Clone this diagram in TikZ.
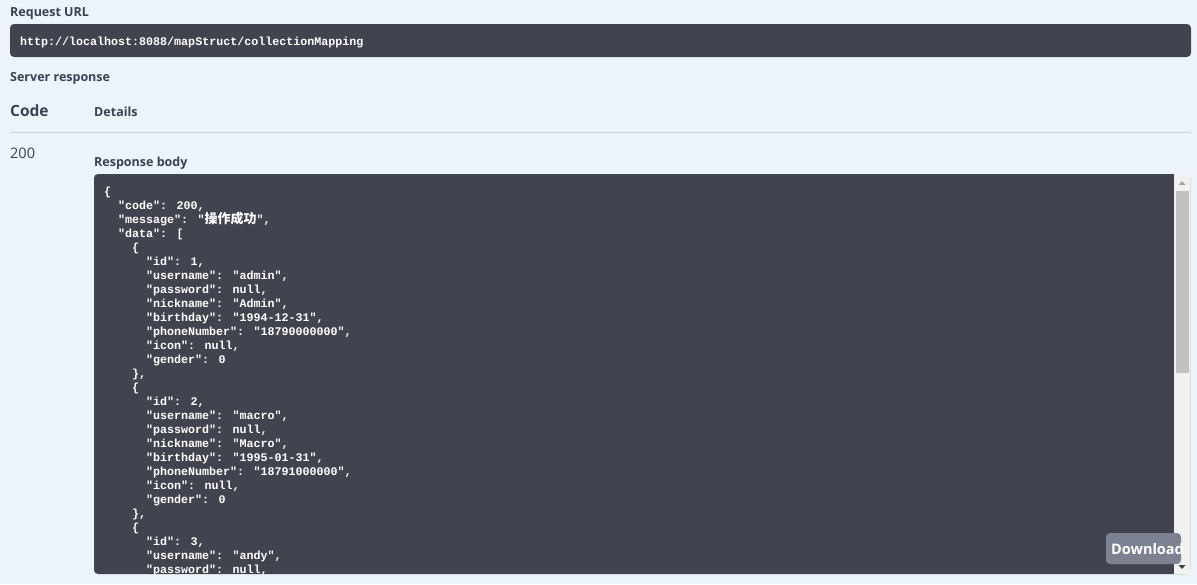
\documentclass[tikz,border=0pt]{standalone}
\usepackage{fontspec}
\setmainfont{Open Sans}
\newfontfamily\codefont{Liberation Mono}
\newfontfamily\cjk{Noto Sans CJK SC}
\usepackage{xcolor}
\definecolor{pagebg}{HTML}{ECF3FB}
\definecolor{panel}{HTML}{41444E}
\definecolor{labeltext}{HTML}{3B4151}
\definecolor{rule}{HTML}{C9CFDB}
\definecolor{track}{HTML}{F1F1F1}
\definecolor{thumb}{HTML}{C1C1C1}
\definecolor{button}{HTML}{7D8293}
\usetikzlibrary{positioning}

\begin{document}
\begin{tikzpicture}[x=1pt, y=-1pt,
  label/.style={anchor=base west, inner sep=0pt, text=labeltext, font=\bfseries\fontsize{12.5}{14}\selectfont},
  code/.style={anchor=base west, inner sep=0pt, text=white, font=\codefont\bfseries\fontsize{11.67}{14}\selectfont}]

\fill[pagebg] (0,0) rectangle (1197,584);
\useasboundingbox (0,0) rectangle (1197,584);

% request url
\node[label] (requrl) at (10,16) {Request URL};
\fill[panel, rounded corners=4pt] (10,24) rectangle (1191,57);
\node[code] (url) at (20,45) {http://localhost:8088/mapStruct/collectionMapping};

% server response header
\node[label] (server) at (10,81) {Server response};
\node[label, font=\bfseries\fontsize{15.5}{18}\selectfont] (codehead) at (10,116) {Code};
\node[label] (details) at (94,116) {Details};
\draw[rule, line width=1pt] (10,132) -- (1191,132);
\node[label, font=\fontsize{14.5}{17}\selectfont] (status) at (10,158) {200};
\node[label] (respbody) at (94,166.5) {Response body};

% response body panel
\fill[panel, rounded corners=4pt] (94,174) rectangle (1190,574);
\fill[track] (1174,174) rectangle (1190,574);
\fill[thumb] (1176,191) rectangle (1189,373);
\fill[gray!70] (1178.5,185) -- (1185.5,185) -- (1182,181) -- cycle;
\fill[black!75] (1178.5,565) -- (1185.5,565) -- (1182,569) -- cycle;

\begin{scope}
\clip (94,174) rectangle (1174,574);
\node[code] (l1) at (104,195) {\{};
\node[code] (l2) at (118,209) {"code": 200,};
\node[code] (l3) at (118,223) {"message": "{\cjk\bfseries\fontsize{13}{14}\selectfont 操作成功}",};
\node[code] (l4) at (118,237) {"data": [};
\node[code] (l5) at (132,251) {\{};
\node[code] (l6) at (146,265) {"id": 1,};
\node[code] (l7) at (146,279) {"username": "admin",};
\node[code] (l8) at (146,293) {"password": null,};
\node[code] (l9) at (146,307) {"nickname": "Admin",};
\node[code] (l10) at (146,321) {"birthday": "1994-12-31",};
\node[code] (l11) at (146,335) {"phoneNumber": "18790000000",};
\node[code] (l12) at (146,349) {"icon": null,};
\node[code] (l13) at (146,363) {"gender": 0};
\node[code] (l14) at (132,377) {\},};
\node[code] (l15) at (132,391) {\{};
\node[code] (l16) at (146,405) {"id": 2,};
\node[code] (l17) at (146,419) {"username": "macro",};
\node[code] (l18) at (146,433) {"password": null,};
\node[code] (l19) at (146,447) {"nickname": "Macro",};
\node[code] (l20) at (146,461) {"birthday": "1995-01-31",};
\node[code] (l21) at (146,475) {"phoneNumber": "18791000000",};
\node[code] (l22) at (146,489) {"icon": null,};
\node[code] (l23) at (146,503) {"gender": 0};
\node[code] (l24) at (132,517) {\},};
\node[code] (l25) at (132,531) {\{};
\node[code] (l26) at (146,545) {"id": 3,};
\node[code] (l27) at (146,559) {"username": "andy",};
\node[code] (l28) at (146,573) {"password": null,};
\end{scope}

% download button
\fill[button, rounded corners=4pt] (1106,533) rectangle (1181,564);
\begin{scope}
\clip (1106,533) rectangle (1182,564);
\node[label, text=white, font=\bfseries\fontsize{14.5}{17}\selectfont] (download) at (1111,554) {Download};
\end{scope}

\end{tikzpicture}
\end{document}
